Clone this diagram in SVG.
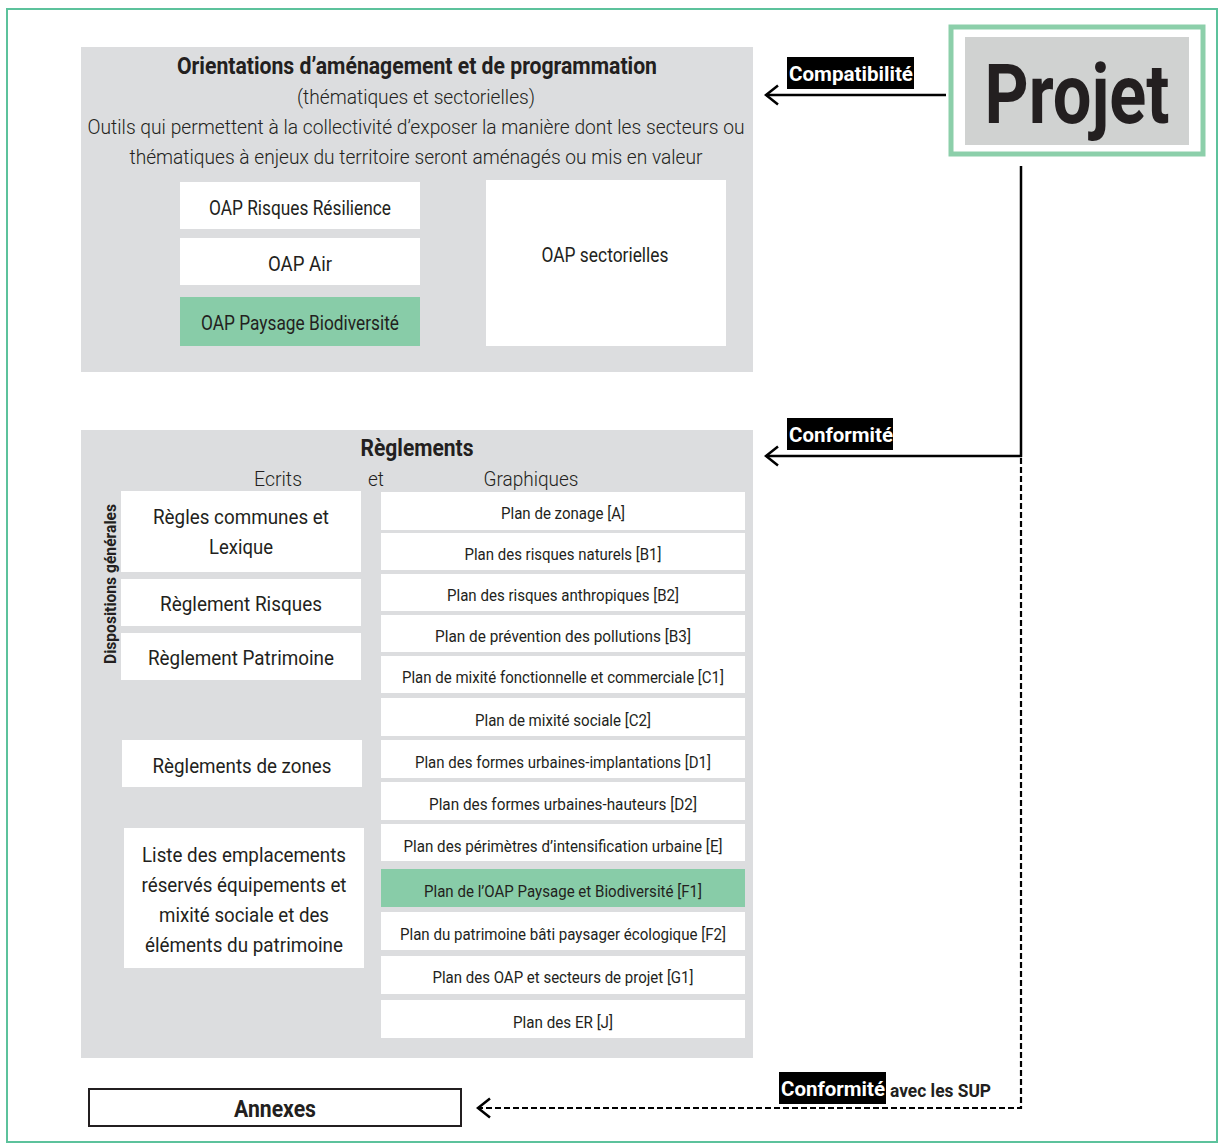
<svg xmlns="http://www.w3.org/2000/svg" width="1224" height="1146" viewBox="0 0 1224 1146">
<style>
text{font-family:Roboto,"Liberation Sans",sans-serif;fill:#231f20;text-anchor:middle}
.panel{fill:#dcdddf}
.box{fill:#fff}
.green{fill:#88cca8}
.t16{font-size:17px}
.t20{font-size:21px}
.b{font-weight:bold}
.lt{font-weight:300}
.lbl{fill:#000}
.lbltxt{fill:#fff;font-weight:bold;font-size:21px;text-anchor:start}
.conn{fill:none;stroke:#000;stroke-width:2.5}
.dash{stroke-dasharray:6 3;stroke-width:2.2}
</style>
<defs>
<marker id="arr" markerUnits="userSpaceOnUse" viewBox="0 0 15 22" refX="13" refY="11" markerWidth="15" markerHeight="22" orient="auto">
<path d="M1,1.5 L13,11 L1,20.5" fill="none" stroke="#000" stroke-width="2.5"/>
</marker>
</defs>
<rect x="0" y="0" width="1224" height="1146" fill="#fff"/>
<rect x="7" y="9" width="1210" height="1133" fill="none" stroke="#5cc29c" stroke-width="2"/>

<g id="oap">
<rect class="panel" x="81" y="47" width="672" height="325"/>
<text class="b" x="417" y="74" font-size="24" textLength="480" lengthAdjust="spacingAndGlyphs">Orientations d’aménagement et de programmation</text>
<text class="t20 lt" x="416" y="104" textLength="238" lengthAdjust="spacingAndGlyphs">(thématiques et sectorielles)</text>
<text class="t20 lt" x="416" y="134" textLength="657" lengthAdjust="spacingAndGlyphs">Outils qui permettent à la collectivité d’exposer la manière dont les secteurs ou</text>
<text class="t20 lt" x="416" y="164" textLength="573" lengthAdjust="spacingAndGlyphs">thématiques à enjeux du territoire seront aménagés ou mis en valeur</text>
</g>
<g id="oap-risques">
<rect class="box" x="180" y="182" width="240" height="47"/>
<text class="t20" x="300" y="215" font-size="20" textLength="182" lengthAdjust="spacingAndGlyphs">OAP Risques Résilience</text>
</g>
<g id="oap-air">
<rect class="box" x="180" y="238" width="240" height="47"/>
<text class="t20" x="300" y="271" textLength="64" lengthAdjust="spacingAndGlyphs">OAP Air</text>
</g>
<g id="oap-paysage">
<rect class="green" x="180" y="297" width="240" height="49"/>
<text class="t20" x="300" y="330" font-size="20" textLength="198" lengthAdjust="spacingAndGlyphs">OAP Paysage Biodiversité</text>
</g>
<g id="oap-sectorielles">
<rect class="box" x="486" y="180" width="240" height="166"/>
<text class="t20" x="605" y="262" font-size="20" textLength="127" lengthAdjust="spacingAndGlyphs">OAP sectorielles</text>
</g>

<g id="projet">
<rect x="951" y="27" width="252" height="127" fill="#fff" stroke="#8ccfaa" stroke-width="5"/>
<rect x="965" y="37" width="224" height="108" fill="#d0d2d1"/>
<text class="b" x="1077" y="123" font-size="84" textLength="185" lengthAdjust="spacingAndGlyphs">Projet</text>
</g>

<g id="reglements">
<rect class="panel" x="81" y="430" width="672" height="628"/>
<text class="b" x="417" y="456" font-size="23" textLength="113" lengthAdjust="spacingAndGlyphs">Règlements</text>
<text class="t20 lt" x="278" y="486" textLength="48" lengthAdjust="spacingAndGlyphs">Ecrits</text>
<text class="t20 lt" x="376" y="486" textLength="16" lengthAdjust="spacingAndGlyphs">et</text>
<text class="t20 lt" x="531" y="486" textLength="95" lengthAdjust="spacingAndGlyphs">Graphiques</text>
<text class="b" transform="translate(116,584) rotate(-90)" font-size="16" textLength="160" lengthAdjust="spacingAndGlyphs">Dispositions générales</text>
</g>

<g id="regles-communes">
<rect class="box" x="121" y="491" width="240" height="81"/>
<text class="t20" x="241" y="524" textLength="176" lengthAdjust="spacingAndGlyphs">Règles communes et</text>
<text class="t20" x="241" y="554" textLength="64" lengthAdjust="spacingAndGlyphs">Lexique</text>
</g>
<g id="reglement-risques">
<rect class="box" x="121" y="579" width="240" height="47"/>
<text class="t20" x="241" y="611" textLength="162" lengthAdjust="spacingAndGlyphs">Règlement Risques</text>
</g>
<g id="reglement-patrimoine">
<rect class="box" x="121" y="633" width="240" height="47"/>
<text class="t20" x="241" y="665" textLength="186" lengthAdjust="spacingAndGlyphs">Règlement Patrimoine</text>
</g>
<g id="reglements-zones">
<rect class="box" x="122" y="740" width="240" height="47"/>
<text class="t20" x="242" y="773" textLength="179" lengthAdjust="spacingAndGlyphs">Règlements de zones</text>
</g>
<g id="liste-emplacements">
<rect class="box" x="124" y="828" width="240" height="140"/>
<text class="t20" x="244" y="862" textLength="204" lengthAdjust="spacingAndGlyphs">Liste des emplacements</text>
<text class="t20" x="244" y="892" textLength="205" lengthAdjust="spacingAndGlyphs">réservés équipements et</text>
<text class="t20" x="244" y="922" textLength="170" lengthAdjust="spacingAndGlyphs">mixité sociale et des</text>
<text class="t20" x="244" y="952" textLength="198" lengthAdjust="spacingAndGlyphs">éléments du patrimoine</text>
</g>

<g id="plan-a"><rect class="box" x="381" y="492" width="364" height="38"/><text class="t16" x="563" y="519" textLength="124" lengthAdjust="spacingAndGlyphs">Plan de zonage [A]</text></g>
<g id="plan-b1"><rect class="box" x="381" y="533" width="364" height="37"/><text class="t16" x="563" y="560" textLength="197" lengthAdjust="spacingAndGlyphs">Plan des risques naturels [B1]</text></g>
<g id="plan-b2"><rect class="box" x="381" y="574" width="364" height="37"/><text class="t16" x="563" y="601" textLength="232" lengthAdjust="spacingAndGlyphs">Plan des risques anthropiques [B2]</text></g>
<g id="plan-b3"><rect class="box" x="381" y="615" width="364" height="37"/><text class="t16" x="563" y="642" textLength="256" lengthAdjust="spacingAndGlyphs">Plan de prévention des pollutions  [B3]</text></g>
<g id="plan-c1"><rect class="box" x="381" y="656" width="364" height="37"/><text class="t16" x="563" y="683" textLength="322" lengthAdjust="spacingAndGlyphs">Plan de mixité fonctionnelle et commerciale [C1]</text></g>
<g id="plan-c2"><rect class="box" x="381" y="698" width="364" height="38"/><text class="t16" x="563" y="726" textLength="176" lengthAdjust="spacingAndGlyphs">Plan de mixité sociale [C2]</text></g>
<g id="plan-d1"><rect class="box" x="381" y="740" width="364" height="38"/><text class="t16" x="563" y="768" textLength="296" lengthAdjust="spacingAndGlyphs">Plan des formes urbaines-implantations [D1]</text></g>
<g id="plan-d2"><rect class="box" x="381" y="782" width="364" height="38"/><text class="t16" x="563" y="810" textLength="268" lengthAdjust="spacingAndGlyphs">Plan des formes urbaines-hauteurs  [D2]</text></g>
<g id="plan-e"><rect class="box" x="381" y="824" width="364" height="37"/><text class="t16" x="563" y="852" textLength="319" lengthAdjust="spacingAndGlyphs">Plan des périmètres d’intensification urbaine [E]</text></g>
<g id="plan-f1"><rect class="green" x="381" y="869" width="364" height="38"/><text class="t16" x="563" y="897" textLength="278" lengthAdjust="spacingAndGlyphs">Plan de l’OAP Paysage et Biodiversité [F1]</text></g>
<g id="plan-f2"><rect class="box" x="381" y="912" width="364" height="38"/><text class="t16" x="563" y="940" textLength="326" lengthAdjust="spacingAndGlyphs">Plan du patrimoine bâti paysager écologique [F2]</text></g>
<g id="plan-g1"><rect class="box" x="381" y="956" width="364" height="38"/><text class="t16" x="563" y="983" textLength="261" lengthAdjust="spacingAndGlyphs">Plan des OAP et secteurs de projet [G1]</text></g>
<g id="plan-j"><rect class="box" x="381" y="1000" width="364" height="38"/><text class="t16" x="563" y="1028" textLength="100" lengthAdjust="spacingAndGlyphs">Plan des ER [J]</text></g>

<g id="annexes">
<rect x="89" y="1089" width="372" height="37" fill="#fff" stroke="#231f20" stroke-width="2"/>
<text class="b" x="275" y="1117" font-size="23" textLength="82" lengthAdjust="spacingAndGlyphs">Annexes</text>
</g>

<g id="connectors">
<path class="conn" d="M946,95 H766" marker-end="url(#arr)"/>
<path class="conn" d="M1021,166 V457"/>
<path class="conn" d="M1022,456 H766" marker-end="url(#arr)"/>
<path class="conn dash" d="M1021,458 V1108 H478" marker-end="url(#arr)"/>
<rect class="lbl" x="787" y="57" width="127" height="32"/>
<text class="lbltxt" x="789" y="81" textLength="124" lengthAdjust="spacingAndGlyphs">Compatibilité</text>
<rect class="lbl" x="787" y="418" width="106" height="32"/>
<text class="lbltxt" x="789" y="442" textLength="104" lengthAdjust="spacingAndGlyphs">Conformité</text>
<rect class="lbl" x="779" y="1072" width="107" height="32"/>
<text class="lbltxt" x="781" y="1096" textLength="104" lengthAdjust="spacingAndGlyphs">Conformité</text>
<text class="b" x="890" y="1097" font-size="18" style="text-anchor:start" textLength="101" lengthAdjust="spacingAndGlyphs">avec les SUP</text>
</g>
</svg>
